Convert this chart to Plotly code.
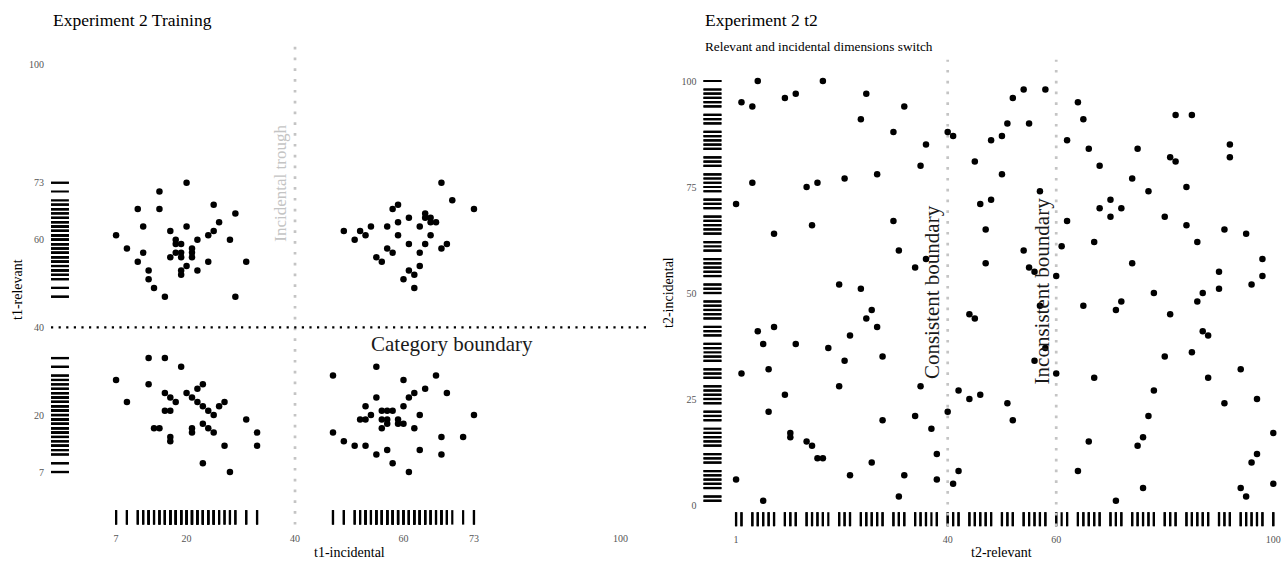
import plotly.graph_objects as go

# ---- Experiment 2, training phase (t1) : four clusters ----
train_tl_x = [20, 15, 11, 15, 25, 29, 26, 12, 20, 7, 17, 25, 24, 18, 18, 19, 22, 28, 9, 12,
              18, 19, 21, 21, 21, 17, 19, 11, 24, 31, 20, 13, 19, 19, 22, 13, 14, 16, 29]
train_tl_y = [73, 71, 67, 67, 68, 66, 64, 63, 63, 61, 62, 62, 61, 60, 59, 59, 60, 60, 58, 57,
              57, 57, 58, 57, 56, 56, 56, 55, 55, 55, 54, 53, 53, 52, 53, 51, 49, 47, 47]

train_tr_x = [67, 69, 73, 59, 58, 64, 64, 65, 65, 66, 61, 59, 54, 57, 63, 49, 52, 53, 51, 59,
              65, 61, 64, 68, 67, 57, 58, 63, 55, 56, 63, 61, 62, 60, 62]
train_tr_y = [73, 69, 67, 68, 67, 66, 65, 65, 64, 64, 65, 64, 63, 63, 63, 62, 62, 61, 60, 61,
              61, 59, 59, 59, 58, 58, 57, 57, 56, 55, 54, 53, 52, 51, 49]

train_bl_x = [13, 16, 19, 7, 13, 23, 22, 20, 16, 17, 21, 9, 18, 22, 27, 23, 26, 16, 17, 24,
              25, 31, 23, 14, 15, 21, 24, 21, 25, 33, 17, 17, 27, 33, 23, 28]
train_bl_y = [33, 33, 31, 28, 27, 27, 26, 25, 25, 24, 24, 23, 23, 23, 23, 22, 22, 21, 21, 21,
              20, 19, 18, 17, 17, 17, 17, 16, 16, 16, 15, 14, 13, 13, 9, 7]

train_br_x = [55, 47, 66, 60, 64, 68, 62, 61, 55, 53, 60, 56, 57, 58, 54, 63, 73, 52, 53, 56,
              57, 59, 57, 59, 60, 56, 62, 47, 67, 71, 49, 51, 53, 63, 57, 55, 67, 58, 61]
train_br_y = [31, 29, 29, 28, 26, 25, 25, 24, 24, 22, 22, 21, 21, 21, 20, 20, 20, 19, 19, 19,
              19, 19, 18, 18, 18, 17, 17, 16, 15, 15, 14, 13, 13, 12, 12, 11, 11, 9, 7]

t1_ticks = [7, 20, 40, 60, 73, 100]

# ---- Experiment 2, test phase (t2) ----
t2_relevant = [5, 17, 2, 4, 10, 12, 25, 32, 24, 30, 40, 41, 36, 35, 45, 27, 21, 4, 16, 14,
               1, 46, 30, 15, 8, 31, 36, 34, 20, 24, 26,
               54, 58, 52, 64, 65, 82, 85, 51, 55, 50, 48, 62, 66, 75, 92, 92, 81, 82, 68,
               50, 74, 77, 84, 57, 48, 70, 68, 72, 70, 80, 62, 84, 47, 91, 95, 67, 86, 61, 54,
               47, 74, 55, 56, 98, 98, 90, 90, 96, 60, 78, 87, 86, 72, 65, 71, 57,
               44, 45, 28, 35, 42, 44, 46, 51, 40, 58, 56, 60,
               5, 8, 6, 2, 7, 7, 12, 10, 11, 11, 14, 15, 16, 17, 18, 20, 21, 22, 25, 27,
               28, 22, 26, 31, 32, 34, 37, 38, 38, 41, 42, 1, 6,
               52, 81, 87, 88, 80, 85, 67, 88, 94, 78, 91, 97, 77, 76, 75, 66, 100, 97, 96, 64,
               76, 94, 95, 100, 71]
t2_incidental = [100, 100, 95, 94, 96, 97, 97, 94, 91, 88, 88, 87, 85, 80, 81, 78, 77, 76, 76, 75,
                 71, 71, 67, 66, 64, 60, 58, 56, 52, 51, 46,
                 98, 98, 96, 95, 91, 92, 92, 90, 90, 87, 86, 86, 84, 84, 85, 82, 82, 81, 80,
                 78, 77, 74, 75, 74, 72, 72, 70, 70, 68, 68, 67, 66, 65, 65, 64, 62, 62, 61, 60,
                 57, 57, 56, 55, 58, 54, 55, 51, 52, 54, 50, 50, 48, 48, 47, 46, 47,
                 45, 44, 35, 28, 27, 25, 26, 24, 22, 37, 34, 31,
                 41, 42, 38, 31, 32, 22, 38, 26, 17, 16, 15, 14, 11, 11, 37, 28, 34, 40, 44, 42,
                 20, 7, 10, 2, 7, 21, 18, 12, 6, 5, 8, 6, 1,
                 20, 45, 41, 40, 35, 36, 30, 30, 32, 27, 24, 25, 21, 16, 14, 15, 17, 12, 10, 8,
                 4, 4, 2, 5, 1]

t2_xticks = [1, 40, 60, 100]
t2_yticks = [0, 25, 50, 75, 100]

train_x = train_tl_x + train_tr_x + train_bl_x + train_br_x
train_y = train_tl_y + train_tr_y + train_bl_y + train_br_y

SERIF = "Liberation Serif"
W, H = 1287, 561

fig = go.Figure()

fig.add_trace(go.Scatter(
    x=train_x, y=train_y, mode="markers",
    marker=dict(color="black", size=6.5, line=dict(width=0)),
    xaxis="x", yaxis="y", showlegend=False, hoverinfo="x+y"))

fig.add_trace(go.Scatter(
    x=t2_relevant, y=t2_incidental, mode="markers",
    marker=dict(color="black", size=6.5, line=dict(width=0)),
    xaxis="x2", yaxis="y2", showlegend=False, hoverinfo="x+y"))

shapes = []
RUG = dict(color="black", width=2.2)

# rugs: one tick per observation along each margin
for v in train_x:
    shapes.append(dict(type="line", xref="x", yref="y domain",
                       x0=v, x1=v, y0=0, y1=0.03, line=RUG, layer="below"))
for v in train_y:
    shapes.append(dict(type="line", xref="x domain", yref="y",
                       x0=0, x1=0.03, y0=v, y1=v, line=RUG, layer="below"))
for v in t2_relevant:
    shapes.append(dict(type="line", xref="x2", yref="y2 domain",
                       x0=v, x1=v, y0=0, y1=0.03, line=RUG, layer="below"))
for v in t2_incidental:
    shapes.append(dict(type="line", xref="x2 domain", yref="y2",
                       x0=0, x1=0.0307, y0=v, y1=v, line=RUG, layer="below"))

GREY_DOT = dict(color="#c4c4c4", width=2.7, dash="2.7px,8.1px")
BLACK_DOT = dict(color="black", width=2.2, dash="2.2px,5.4px")

# boundaries
shapes.append(dict(type="line", xref="x", yref="y domain", x0=40, x1=40, y0=0, y1=1,
                   line=GREY_DOT, layer="below"))
shapes.append(dict(type="line", xref="x domain", yref="y", x0=0, x1=1, y0=40, y1=40,
                   line=BLACK_DOT, layer="below"))
for v in (40, 60):
    shapes.append(dict(type="line", xref="x2", yref="y2 domain", x0=v, x1=v, y0=0, y1=1,
                       line=GREY_DOT, layer="below"))

TICKFONT = dict(family=SERIF, size=10, color="#555555")


def axis(domain, rng, ticks):
    return dict(domain=domain, range=rng, tickvals=ticks, ticktext=[str(t) for t in ticks],
                showgrid=False, zeroline=False, showline=False, ticks="",
                tickfont=TICKFONT, ticklabelstandoff=6, fixedrange=True)


fig.update_layout(
    width=W, height=H,
    margin=dict(l=0, r=0, t=0, b=0),
    paper_bgcolor="white", plot_bgcolor="white",
    xaxis=axis([51 / W, 647.5 / W], [-5, 105], t1_ticks),
    yaxis=axis([1 - 524.6 / H, 1 - 42.5 / H], [-5, 105], t1_ticks),
    xaxis2=axis([703.5 / W, 1.0], [-5, 102.53], t2_xticks),
    yaxis2=axis([1 - 526.2 / H, 1 - 59.8 / H], [-5, 105], t2_yticks),
    shapes=shapes,
    font=dict(family=SERIF),
)
fig.layout.xaxis2.anchor = "y2"
fig.layout.yaxis2.anchor = "x2"


def px_ann(text, x, y, size, color="black", angle=0, xanchor="center", yanchor="middle"):
    fig.add_annotation(text=text, xref="paper", yref="paper", x=x / W, y=1 - y / H,
                       showarrow=False, textangle=angle, xanchor=xanchor, yanchor=yanchor,
                       font=dict(family=SERIF, size=size, color=color))


# titles
px_ann("Experiment 2 Training", 51, 20, 17.5, xanchor="left")
px_ann("Experiment 2 t2", 703, 20, 17.5, xanchor="left")
px_ann("Relevant and incidental dimensions switch", 703, 47, 13.3, xanchor="left")

# axis titles
px_ann("t1-incidental", 349, 552, 14)
px_ann("t1-relevant", 17, 290, 14, angle=-90)
px_ann("t2-relevant", 1002, 552, 14)
px_ann("t2-incidental", 668, 293, 14, angle=-90)

# reference line labels (data coordinates)
fig.add_annotation(text="Incidental trough", xref="x", yref="y", x=37.4, y=73,
                   showarrow=False, textangle=-90,
                   font=dict(family=SERIF, size=17, color="#c4c4c4"))
fig.add_annotation(text="Category boundary", xref="x", yref="y", x=69, y=36.2,
                   showarrow=False, font=dict(family=SERIF, size=21, color="#1a1a1a"))
fig.add_annotation(text="Consistent boundary", xref="x2", yref="y2", x=37.1, y=50.2,
                   showarrow=False, textangle=-90,
                   font=dict(family=SERIF, size=21, color="#1a1a1a"))
fig.add_annotation(text="Inconsistent boundary", xref="x2", yref="y2", x=57.4, y=50.4,
                   showarrow=False, textangle=-90,
                   font=dict(family=SERIF, size=21, color="#1a1a1a"))

fig.write_html("out.html")
